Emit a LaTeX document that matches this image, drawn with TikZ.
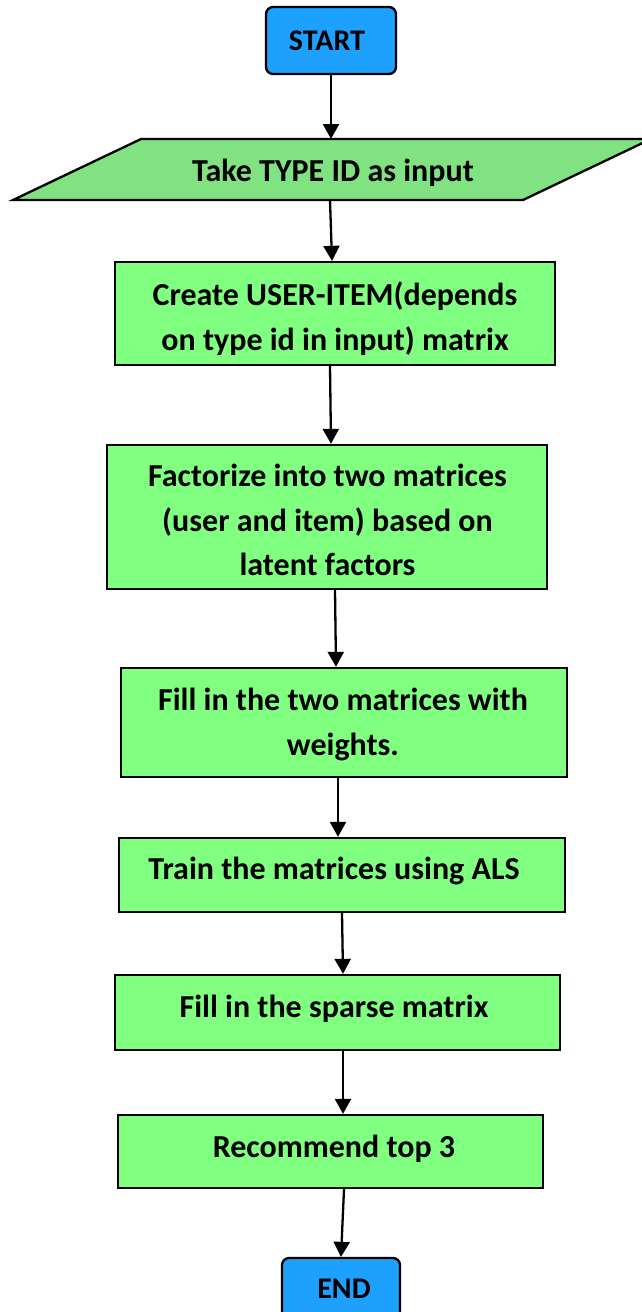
\documentclass[tikz,border=0pt]{standalone}
\usepackage{fontspec}
\setmainfont{Carlito}
\usetikzlibrary{arrows.meta,calc}
\definecolor{termblue}{RGB}{30,160,255}
\definecolor{boxgreen}{RGB}{128,255,128}
\definecolor{iogreen}{RGB}{128,226,128}
\tikzset{
  term/.style={draw=black, line width=2.3pt, fill=termblue, rounded corners=7pt, inner sep=0pt},
  procbox/.style={draw=black, line width=2.3pt, fill=boxgreen, inner sep=0pt},
  txt/.style={inner sep=0pt, align=center, font=\bfseries\fontsize{32}{44.5}\selectfont},
  ttxt/.style={inner sep=0pt, font=\bfseries\fontsize{30}{36}\selectfont},
  arr/.style={-{Triangle[length=15pt,width=16pt]}, line width=2.3pt, black},
}
\begin{document}
\begin{tikzpicture}[x=1pt,y=-1pt]
\useasboundingbox (0,0) rectangle (641,1312);
% START
\node[term, minimum width=130pt, minimum height=67pt] (start) at (331,40.5) {};
\node[ttxt] (starttxt) at (327,41) {START};
% input parallelogram
\coordinate (ptl) at (141,139);
\coordinate (ptr) at (651,139);
\coordinate (pbr) at (523,200);
\coordinate (pbl) at (13,200);
\draw[line width=2.3pt, fill=iogreen] (ptl) -- (ptr) -- (pbr) -- (pbl) -- cycle;
\node[txt] (inp) at (333,173) {Take TYPE ID as input};
\coordinate (inptop) at (331,139);
\coordinate (inpbot) at (330,200);
% boxes
\node[procbox, minimum width=440pt, minimum height=103pt] (b1) at (335,313.5) {};
\node[txt] (t1) at (335,318.5) {Create USER-ITEM(depends\\on type id in input) matrix};
\node[procbox, minimum width=440pt, minimum height=144pt] (b2) at (327,517) {};
\node[txt] (t2) at (327.5,520) {Factorize into two matrices\\(user and item) based on\\latent factors};
\node[procbox, minimum width=446pt, minimum height=109pt] (b3) at (344,722.5) {};
\node[txt] (t3) at (343,724.5) {Fill in the two matrices with\\weights.};
\node[procbox, minimum width=446pt, minimum height=74pt] (b4) at (342,875) {};
\node[txt] (t4) at (334,870.5) {Train the matrices using ALS};
\node[procbox, minimum width=445pt, minimum height=75pt] (b5) at (337.5,1012.5) {};
\node[txt] (t5) at (334,1009) {Fill in the sparse matrix};
\node[procbox, minimum width=425pt, minimum height=73pt] (b6) at (330.5,1151.5) {};
\node[txt] (t6) at (334,1149) {Recommend top 3};
% END
\node[term, minimum width=118pt, minimum height=64pt] (end) at (341,1290) {};
\node[ttxt] (endtxt) at (344,1289) {END};
% arrows
\draw[arr] (start.south) -- (inptop);
\draw[arr] (inpbot) -- ($(b1.north)+(-3,0)$);
\draw[arr] ($(b1.south)+(-5,0)$) -- ($(b2.north)+(4,0)$);
\draw[arr] ($(b2.south)+(8,0)$) -- ($(b3.north)+(-8,0)$);
\draw[arr] ($(b3.south)+(-6,0)$) -- ($(b4.north)+(-4,0)$);
\draw[arr] ($(b4.south)+(0,0)$) -- ($(b5.north)+(5.5,0)$);
\draw[arr] ($(b5.south)+(5.5,0)$) -- ($(b6.north)+(12.5,0)$);
\draw[arr] ($(b6.south)+(13.5,0)$) -- (end.north);
\end{tikzpicture}
\end{document}
